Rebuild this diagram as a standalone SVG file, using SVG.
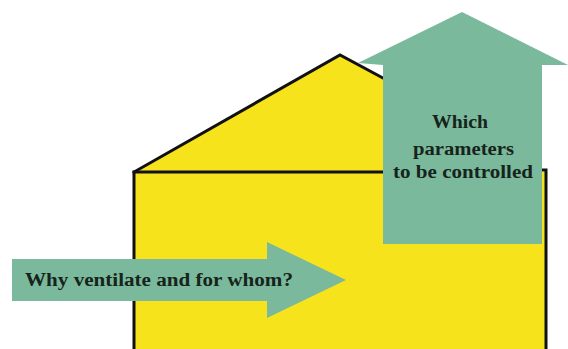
<svg xmlns="http://www.w3.org/2000/svg" width="568" height="349" viewBox="0 0 568 349">
<style>
.wall{fill:none;stroke:#111;stroke-width:3;stroke-linejoin:miter;stroke-linecap:square}
.arrow{fill:#7BB99D}
.lbl{font-family:"Liberation Serif","Times New Roman",serif;font-weight:bold;fill:#16241b;font-size:18px}
</style>
<rect width="568" height="349" fill="#ffffff"/>
<g id="house">
<polygon points="134,172 340,55 400,88 400,172 546,172 546,349 134,349" fill="#F6E31C"/>
<polyline class="wall" points="134,349 134,172 340,55 383,78"/>
<line class="wall" x1="134" y1="172" x2="383" y2="172"/>
<polyline class="wall" points="542,170 546,170 546,349"/>
</g>
<g id="connectors">
<g id="arrow-params">
<polygon class="arrow" points="358,63 462,12 568,65 542,65 542,244 383,244 383,65"/>
<text class="lbl" x="432" y="128" textLength="56" lengthAdjust="spacingAndGlyphs">Which</text>
<text class="lbl" x="413" y="155" textLength="101" lengthAdjust="spacingAndGlyphs">parameters</text>
<text class="lbl" x="393" y="178" textLength="140" lengthAdjust="spacingAndGlyphs">to be controlled</text>
</g>
<g id="arrow-why">
<polygon class="arrow" points="12,259 267,259 267,242 346,280 267,318 267,301 12,301"/>
<text class="lbl" x="25" y="286" textLength="268" lengthAdjust="spacingAndGlyphs">Why ventilate and for whom?</text>
</g>
</g>
</svg>
